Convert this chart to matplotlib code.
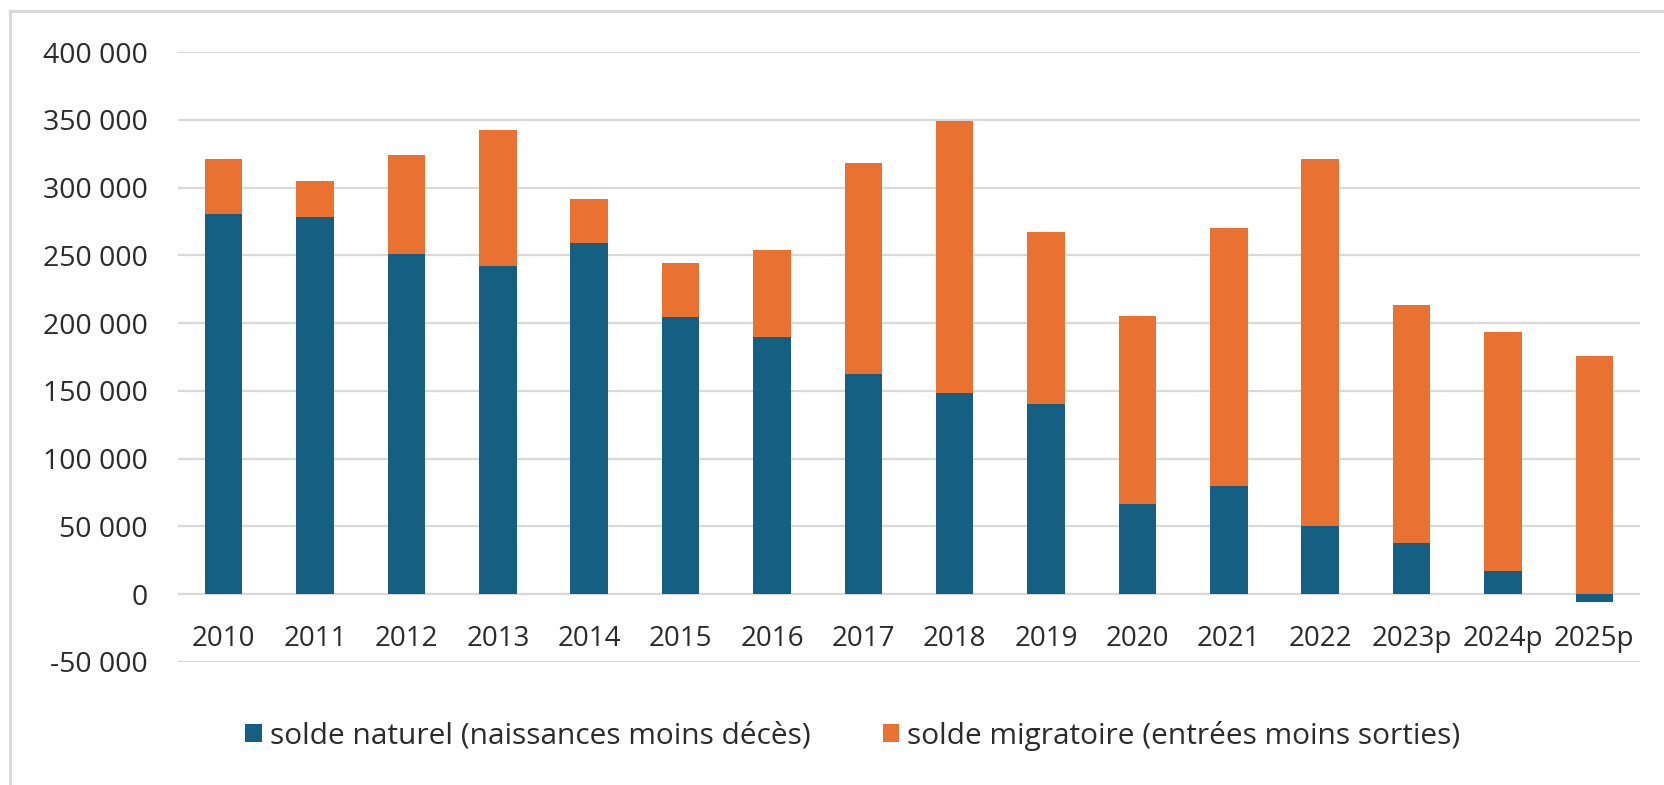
import matplotlib
matplotlib.use("Agg")
import matplotlib.pyplot as plt
import numpy as np
from matplotlib.lines import Line2D
from matplotlib.patches import Patch

years = ["2010", "2011", "2012", "2013", "2014", "2015", "2016", "2017",
         "2018", "2019", "2020", "2021", "2022", "2023p", "2024p", "2025p"]
solde_naturel = [280600, 278100, 251200, 241900, 259400, 204400, 189900, 162700,
                 148200, 140300, 66300, 79700, 50300, 38000, 16800, -5500]
solde_migratoire = [40200, 26900, 72500, 100500, 32300, 39900, 63800, 155600,
                    200900, 127000, 139100, 190300, 270500, 175500, 176800, 176000]
yticks = [-50000, 0, 50000, 100000, 150000, 200000, 250000, 300000, 350000, 400000]
legend_labels = ["solde naturel (naissances moins décès)",
                 "solde migratoire (entrées moins sorties)"]

BLUE = "#156082"
ORANGE = "#E97132"
GRID = "#D9D9D9"
TXT = "#2B2B2B"

plt.rcParams['font.family'] = ['Open Sans', 'DejaVu Sans']

W, H = 1664, 785
fig = plt.figure(figsize=(W / 100, H / 100), dpi=100)
ax = fig.add_axes([178 / W, 1 - 662 / H, (1640 - 178) / W, (662 - 52) / H])

x = np.arange(len(years))
nat = np.array(solde_naturel)
mig = np.array(solde_migratoire)
bottom_mig = np.where(nat > 0, nat, 0)
bw = 0.41
ax.bar(x, nat, width=bw, color=BLUE, zorder=3)
ax.bar(x, mig, bottom=bottom_mig, width=bw, color=ORANGE, zorder=3)

ax.set_xlim(-0.5, len(years) - 0.5)
ax.set_ylim(-50000, 400000)
ax.set_yticks(yticks)
ax.set_yticklabels([f"{v:,}".replace(",", " ") for v in yticks])
ax.yaxis.grid(True, color=GRID, linewidth=1.6, zorder=0)
ax.set_axisbelow(True)
ax.tick_params(axis='y', length=0, pad=22, labelsize=20.5, labelcolor=TXT)
ax.set_xticks([])
for s in ax.spines.values():
    s.set_visible(False)

for i, lab in enumerate(years):
    ax.text(i, -33000, lab, ha='center', va='center', fontsize=20, color=TXT)

# outer chart border (top and left visible)
fig.add_artist(Line2D([10 / W, 1], [1 - 11 / H, 1 - 11 / H], color=GRID,
                      linewidth=2.2, transform=fig.transFigure))
fig.add_artist(Line2D([10 / W, 10 / W], [0, 1 - 11 / H], color=GRID,
                      linewidth=2.2, transform=fig.transFigure))

handles = [Patch(facecolor=BLUE), Patch(facecolor=ORANGE)]
fig.legend(handles, legend_labels, loc='center', ncol=2,
           bbox_to_anchor=(853 / W, 1 - 736 / H), frameon=False,
           fontsize=21.5, handlelength=0.55, handleheight=0.55,
           handletextpad=0.28, columnspacing=2.4, labelcolor=TXT)

fig.savefig("out.png", dpi=100)
